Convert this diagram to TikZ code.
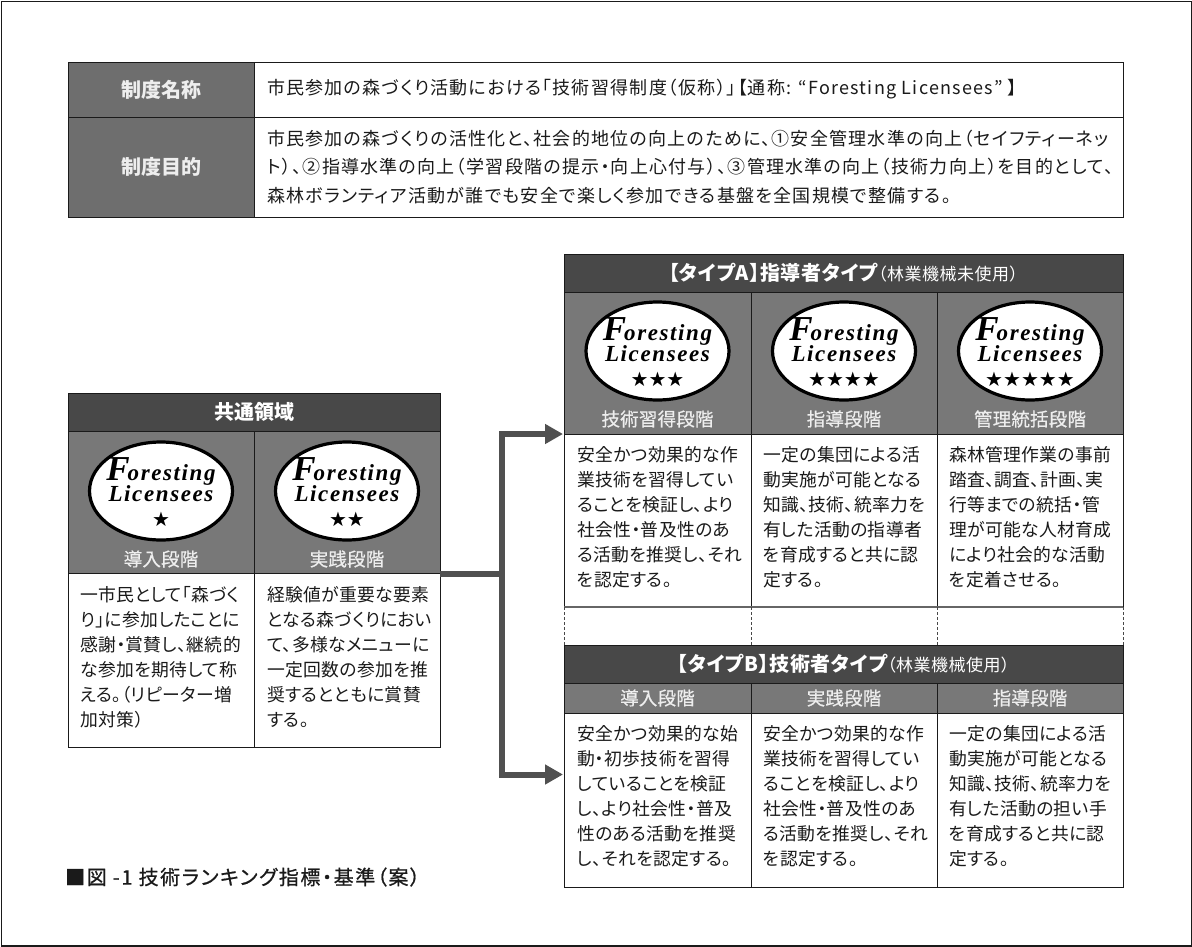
\documentclass[tikz,border=0pt]{standalone}
\usepackage{fontspec}
\setmainfont{Noto Sans CJK JP}[RawFeature=+palt]
\newfontfamily\jpbody{Noto Sans CJK JP}[RawFeature=+palt,LetterSpace=2]
\newfontfamily\jptop{Noto Sans CJK JP}[RawFeature=+palt,LetterSpace=7]
\newfontfamily\jpcap{Noto Sans CJK JP}[RawFeature=+palt,LetterSpace=8,FakeBold=0.8]
\newfontfamily\jpstage{Noto Sans CJK JP}[RawFeature=+palt,LetterSpace=1,FakeBold=0.5]
\newfontfamily\jphead{Noto Sans CJK JP}[RawFeature=+palt,LetterSpace=3]
\newfontfamily\latinserif{Liberation Serif}[LetterSpace=7]
\newfontfamily\symfont{DejaVu Sans}
\usetikzlibrary{arrows.meta,shapes.geometric}
\definecolor{darkhead}{HTML}{484848}
\definecolor{midgray}{HTML}{787878}
\definecolor{namegray}{HTML}{6E6E6E}
\definecolor{stagefg}{HTML}{EEEEEE}
\definecolor{inkc}{HTML}{1A1A1A}
\definecolor{connc}{HTML}{505050}
\tikzset{
  cell/.style={draw=inkc,line width=1pt,anchor=north west,inner sep=0pt,outer sep=0pt},
  whitecell/.style={cell,fill=white},
  headcell/.style={cell,fill=darkhead,text=white,font=\fontsize{20}{24}\selectfont\bfseries},
  typehead/.style={cell,fill=darkhead,text=white,font=\jphead\fontsize{20}{24}\selectfont\bfseries},
  graycell/.style={cell,fill=midgray},
  namecell/.style={cell,fill=namegray,text=stagefg,font=\fontsize{20}{24}\selectfont\bfseries},
  stagelabel/.style={text=stagefg,inner sep=0pt,font=\jpstage\fontsize{18.5}{22}\selectfont},
  stagecell/.style={cell,fill=midgray,text=stagefg,font=\jpstage\fontsize{18.5}{22}\selectfont},
  bodytext/.style={anchor=north west,inner sep=0pt,align=left,text=inkc,font=\jpbody\fontsize{17.8}{25}\selectfont},
  toptext/.style={anchor=west,inner sep=0pt,align=left,text=inkc,font=\jptop\fontsize{18}{28.5}\selectfont},
  oval/.style={ellipse,draw=black,fill=white,line width=3.2pt,minimum width=143pt,minimum height=98pt,inner sep=0pt},
  ovaltext/.style={inner sep=0pt,text=black,font=\latinserif\bfseries\itshape\fontsize{23}{23}\selectfont},
  startext/.style={inner sep=0pt,text=black,font=\symfont\fontsize{20}{20}\selectfont},
  conn/.style={draw=connc,line width=6pt},
  connarrow/.style={conn,-{Triangle[length=18pt,width=19pt]},shorten >=1pt},
  sep/.style={draw=inkc!80,line width=0.7pt,densely dashed},
  thickedge/.style={draw=black!60,line width=2pt},
}
\newcommand{\badge}[4]{% name, cx, cy, stars
  \node[oval] (#1) at (#2,#3) {};
  \node[ovaltext,anchor=base,text depth=0pt] (#1f) at (#2,#3-11) {\fontsize{35}{35}\selectfont F\hspace{-2pt}\fontsize{23}{23}\selectfont oresting};
  \node[ovaltext,anchor=base,text height=14pt] (#1l) at (#2,#3+10) {Licensees};
  \node[startext] (#1s) at (#2,#3+28) {#4};
}
\begin{document}
\begin{tikzpicture}[x=1pt,y=-1pt]
\useasboundingbox (0,0) rectangle (1192,946);
\node[draw=inkc,line width=1.5pt,minimum width=1190.5pt,minimum height=944.5pt,anchor=north west,inner sep=0pt] (frame) at (0.75,0.75) {};

% top table
\node[namecell,minimum width=186pt,minimum height=55pt] (nameL) at (68,62) {制度名称};
\node[whitecell,minimum width=869pt,minimum height=55pt] (nameR) at (254,62) {};
\node[namecell,minimum width=186pt,minimum height=100pt] (aimL) at (68,117) {制度目的};
\node[whitecell,minimum width=869pt,minimum height=100pt] (aimR) at (254,117) {};
\node[toptext] (nameT) at (267,89) {市民参加の森づくり活動における「技術習得制度（仮称）」【通称: “Foresting Licensees” 】};
\node[toptext] (aimT) at (267,167) {市民参加の森づくりの活性化と、社会的地位の向上のために、①安全管理水準の向上（セイフティーネッ\\ト）、②指導水準の向上（学習段階の提示・向上心付与）、③管理水準の向上（技術力向上）を目的として、\\森林ボランティア活動が誰でも安全で楽しく参加できる基盤を全国規模で整備する。};

% common block
\node[headcell,minimum width=372pt,minimum height=38pt] (cHead) at (68,393) {共通領域};
\node[graycell,minimum width=186pt,minimum height=142pt] (cG1) at (68,431) {};
\node[graycell,minimum width=186pt,minimum height=142pt] (cG2) at (254,431) {};
\node[whitecell,minimum width=186pt,minimum height=174pt] (cW1) at (68,573) {};
\node[whitecell,minimum width=186pt,minimum height=174pt] (cW2) at (254,573) {};
\badge{b1}{161}{491}{★}
\badge{b2}{347}{491}{★★}
\node[stagelabel] (s1) at (161,559) {導入段階};
\node[stagelabel] (s2) at (347,559) {実践段階};
\node[bodytext] (t1) at (80,586) {一市民として「森づく\\り」に参加したことに\\感謝・賞賛し、継続的\\な参加を期待して称\\える。（リピーター増\\加対策）};
\node[bodytext] (t2) at (267,586) {経験値が重要な要素\\となる森づくりにおい\\て、多様なメニューに\\一定回数の参加を推\\奨するとともに賞賛\\する。};

% type A
\node[typehead,minimum width=559pt,minimum height=38pt] (aHead) at (564,254) {【タイプA】指導者タイプ\fontsize{17}{20}\selectfont\mdseries（林業機械未使用）};
\node[graycell,minimum width=187pt,minimum height=142pt] (aG1) at (564,292) {};
\node[graycell,minimum width=186pt,minimum height=142pt] (aG2) at (751,292) {};
\node[graycell,minimum width=186pt,minimum height=142pt] (aG3) at (937,292) {};
\node[whitecell,minimum width=187pt,minimum height=173pt] (aW1) at (564,434) {};
\node[whitecell,minimum width=186pt,minimum height=173pt] (aW2) at (751,434) {};
\node[whitecell,minimum width=186pt,minimum height=173pt] (aW3) at (937,434) {};
\draw[thickedge] (aW1.south west) -- (aW3.south east);
\badge{a1}{657.5}{351}{★★★}
\badge{a2}{844}{351}{★★★★}
\badge{a3}{1030}{351}{★★★★★}
\node[stagelabel] (as1) at (657.5,419) {技術習得段階};
\node[stagelabel] (as2) at (844,419) {指導段階};
\node[stagelabel] (as3) at (1030,419) {管理統括段階};
\node[bodytext] (at1) at (577,446) {安全かつ効果的な作\\業技術を習得してい\\ることを検証し、より\\社会性・普及性のあ\\る活動を推奨し、それ\\を認定する。};
\node[bodytext] (at2) at (763,446) {一定の集団による活\\動実施が可能となる\\知識、技術、統率力を\\有した活動の指導者\\を育成すると共に認\\定する。};
\node[bodytext] (at3) at (949,446) {森林管理作業の事前\\踏査、調査、計画、実\\行等までの統括・管\\理が可能な人材育成\\により社会的な活動\\を定着させる。};

% separators
\foreach \i/\x in {1/564,2/751,3/937,4/1123}{
  \coordinate (dT\i) at (\x,607);
  \coordinate (dB\i) at (\x,645);
  \draw[sep] (dT\i) -- (dB\i);
}

% type B
\node[typehead,minimum width=559pt,minimum height=38pt] (bHead) at (564,645) {【タイプB】技術者タイプ\fontsize{17}{20}\selectfont\mdseries（林業機械使用）};
\node[stagecell,minimum width=187pt,minimum height=30pt] (bG1) at (564,683) {導入段階};
\node[stagecell,minimum width=186pt,minimum height=30pt] (bG2) at (751,683) {実践段階};
\node[stagecell,minimum width=186pt,minimum height=30pt] (bG3) at (937,683) {指導段階};
\node[whitecell,minimum width=187pt,minimum height=174pt] (bW1) at (564,713) {};
\node[whitecell,minimum width=186pt,minimum height=174pt] (bW2) at (751,713) {};
\node[whitecell,minimum width=186pt,minimum height=174pt] (bW3) at (937,713) {};
\node[bodytext] (bt1) at (577,725) {安全かつ効果的な始\\動・初歩技術を習得\\していることを検証\\し、より社会性・普及\\性のある活動を推奨\\し、それを認定する。};
\node[bodytext] (bt2) at (763,725) {安全かつ効果的な作\\業技術を習得してい\\ることを検証し、より\\社会性・普及性のあ\\る活動を推奨し、それ\\を認定する。};
\node[bodytext] (bt3) at (949,725) {一定の集団による活\\動実施が可能となる\\知識、技術、統率力を\\有した活動の担い手\\を育成すると共に認\\定する。};

% connectors
\coordinate (jn) at (502,574);
\coordinate (bTarget) at (564,774.5);
\draw[conn] (cW2.north east |- jn) -- (jn);
\draw[connarrow] (jn) |- (aW1.north west);
\draw[connarrow] (jn) |- (bTarget);

% caption
\node[anchor=west,inner sep=0pt,text=inkc,font=\jpcap\fontsize{20}{24}\selectfont] (cap) at (65,877) {■図 -1 技術ランキング指標・基準（案）};
\end{tikzpicture}
\end{document}
